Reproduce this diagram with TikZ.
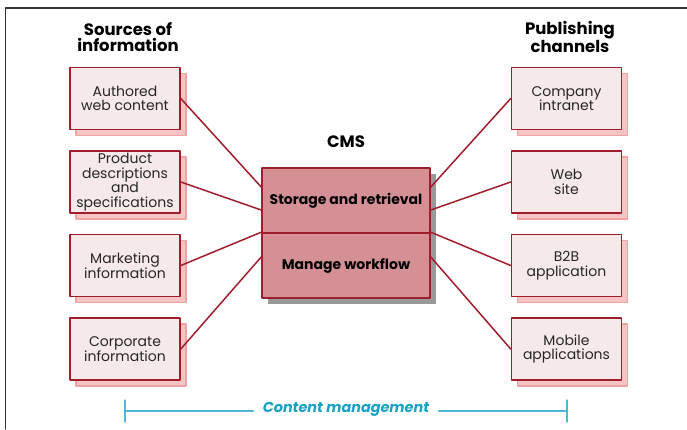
\documentclass[tikz,border=0pt]{standalone}
\usepackage{fontspec}
\setmainfont{Poppins}
\usetikzlibrary{positioning}
\usetikzlibrary{shadows}
\definecolor{boxred}{HTML}{A01E2C}
\definecolor{boxfill}{HTML}{F6E9E9}
\definecolor{pinkshade}{HTML}{F6C4C4}
\definecolor{pinkedge}{HTML}{EFA3A3}
\definecolor{cmsfill}{HTML}{D49094}
\definecolor{cmcyan}{HTML}{1AA2C6}
\definecolor{cmline}{HTML}{4DB8D3}

\begin{document}
\begin{tikzpicture}[x=1pt,y=-1pt,line cap=round,line join=round,
  srcbox/.style={draw=boxred,line width=1.6pt,fill=boxfill,minimum width=110pt,
    minimum height=62pt,inner sep=0pt,align=center,text=black!85,
    font=\fontsize{14}{14.6}\selectfont,
    drop shadow={fill=pinkshade,draw=pinkedge,line width=1.5pt,opacity=1,
      shadow xshift=6pt,shadow yshift=-6pt}},
  cmsbox/.style={draw=boxred,line width=1.6pt,fill=cmsfill,minimum width=168pt,
    minimum height=65pt,inner sep=1pt,font=\fontsize{14}{16}\bfseries\selectfont,
    drop shadow={fill=black!40,opacity=1,shadow xshift=6pt,shadow yshift=-6pt}},
  heading/.style={align=center,font=\fontsize{16.5}{16}\bfseries\selectfont},
  link/.style={draw=boxred,line width=1.5pt},
  cmrule/.style={draw=cmline,line width=1.2pt}]
  \useasboundingbox (0,0) rectangle (687,429);

  % frame
  \draw[line width=1.4pt,black!80] (5.5,429) -- (5.5,8) -- (687,8);

  % headings
  \node[heading] (srchead) at (128,37) {Sources of\\information};
  \node[heading] (pubhead) at (570,37) {Publishing\\channels};
  \node[heading] (cmshead) at (346,142) {CMS};

  % sources
  \node[srcbox] (authored) at (125,98.5) {Authored\\web content};
  \node[srcbox] (product) at (125,182) {Product\\descriptions\\and\\specifications};
  \node[srcbox] (marketing) at (125,265.5) {Marketing\\information};
  \node[srcbox] (corporate) at (125,349) {Corporate\\information};

  % channels
  \node[srcbox] (intranet) at (566.5,98.5) {Company\\intranet};
  \node[srcbox] (website) at (566.5,182) {Web\\site};
  \node[srcbox] (btob) at (566.5,265.5) {B2B\\application};
  \node[srcbox] (mobile) at (566.5,349) {Mobile\\applications};

  % cms
  \node[cmsbox] (storage) at (346,200.5) {Storage and retrieval};
  \node[cmsbox] (workflow) at (346,265.5) {Manage workflow};

  % links
  \draw[link] (authored.east) -- ([yshift=13.5pt]storage.west);
  \draw[link] (product.east) -- ([yshift=-9.5pt]storage.west);
  \draw[link] (marketing.east) -- (workflow.north west);
  \draw[link] (corporate.east) -- ([yshift=8.5pt]workflow.west);
  \draw[link] (intranet.west) -- ([yshift=13.5pt]storage.east);
  \draw[link] (website.west) -- ([yshift=-9.5pt]storage.east);
  \draw[link] (btob.west) -- (workflow.north east);
  \draw[link] (mobile.west) -- ([yshift=8.5pt]workflow.east);

  % content management
  \node[text=cmcyan,font=\fontsize{14.4}{16}\bfseries\itshape\selectfont] (cm) at (346,409) {Content management};
  \coordinate (cmleft) at (125,411);
  \coordinate (cmright) at (567,411);
  \draw[cmrule] (cmleft) -- ([xshift=-6pt,yshift=-2pt]cm.west);
  \draw[cmrule] ([xshift=6pt,yshift=-2pt]cm.east) -- (cmright);
  \draw[cmrule] ([yshift=11pt]cmleft) -- ([yshift=-11pt]cmleft);
  \draw[cmrule] ([yshift=11pt]cmright) -- ([yshift=-11pt]cmright);
\end{tikzpicture}
\end{document}
